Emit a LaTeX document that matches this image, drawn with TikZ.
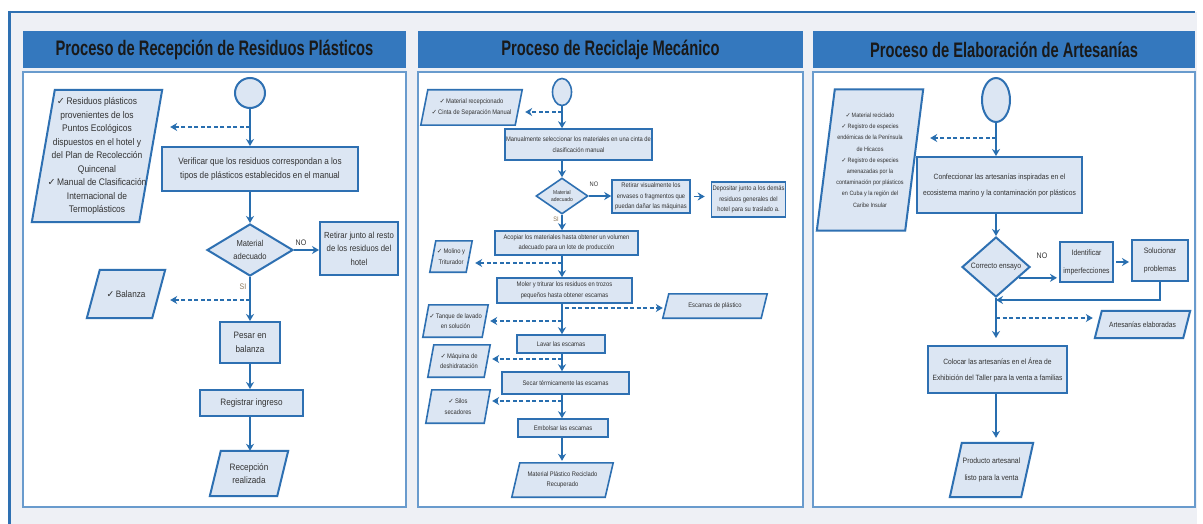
\documentclass[tikz,border=0pt]{standalone}
\usepackage{fontspec}
\setmainfont{Liberation Sans}
\newfontfamily\headfont[FakeStretch=0.7]{Liberation Sans}
\newfontfamily\nfont[FakeStretch=0.88]{Liberation Sans}
\newfontfamily\symfont{DejaVu Sans}
\usetikzlibrary{shapes.geometric,arrows.meta,calc}

\definecolor{bord}{RGB}{46,112,178}
\definecolor{headblue}{RGB}{52,120,190}
\definecolor{panelline}{RGB}{105,155,205}
\definecolor{lfill}{RGB}{220,230,243}
\definecolor{txt}{RGB}{50,50,50}
\definecolor{framebg}{RGB}{238,240,245}
\definecolor{arr}{RGB}{40,110,175}
\definecolor{silbl}{RGB}{140,120,90}

\newcommand\ck{{\symfont ✓}\,}
\newcommand\ftA{\nfont\fontsize{9.6}{13.5}\selectfont}
\newcommand\ftB{\nfont\fontsize{9.3}{13.5}\selectfont}
\newcommand\ftC{\nfont\fontsize{6.6}{10.5}\selectfont}
\newcommand\ftD{\nfont\fontsize{7.6}{16}\selectfont}
\newcommand\ftE{\nfont\fontsize{6.2}{11.2}\selectfont}

\pgfdeclarelayer{panels}
\pgfdeclarelayer{shapes}
\pgfsetlayers{panels,shapes,main}

% parallelogram (data symbol) drawn behind a named text node
\newcommand\ioframe[3][2]{%
  \begin{pgfonlayer}{shapes}
    \draw[iobord, line width=#1] ([xshift=#3]#2.north west) -- (#2.north east)
      -- ([xshift=-#3]#2.south east) -- (#2.south west) -- cycle;
  \end{pgfonlayer}}

\tikzset{
  headbar/.style={rectangle, fill=headblue, inner sep=0pt, text=black!90,
    font=\headfont\bfseries\fontsize{21}{21}\selectfont},
  panelbody/.style={rectangle, draw=panelline, line width=1.5pt, fill=white, inner sep=0pt},
  box/.style={rectangle, draw=bord, line width=2pt, fill=lfill, inner sep=1pt,
    align=center, text=txt},
  thinbox/.style={box, line width=1.6pt},
  iobox/.style={rectangle, inner sep=0pt, align=center, text=txt},
  iobord/.style={draw=bord, fill=lfill},
  startc/.style={ellipse, draw=bord, line width=2pt, fill=lfill, inner sep=0pt},
  dia/.style={diamond, draw=bord, line width=2pt, fill=lfill, inner sep=0pt,
    align=center, text=txt},
  flow/.style={draw=arr, line width=1.8pt, -{Stealth[length=7pt,width=8pt]}},
  dflow/.style={flow, dash pattern=on 4pt off 2.5pt},
  lbl/.style={inner sep=0pt, text=txt, font=\nfont\fontsize{8}{8}\selectfont},
  silabel/.style={lbl, text=silbl},
}

\begin{document}
\begin{tikzpicture}[x=1pt,y=-1pt]
\useasboundingbox (0,0) rectangle (1203,524);

% ---------- frame and the three panels ----------
\begin{pgfonlayer}{panels}
  \fill[white] (0,0) rectangle (1203,524);
  \fill[framebg] (9,12) rectangle (1197,524);
  \draw[bord, line width=2.5pt] (8,12) -- (1195,12);
  \draw[bord, line width=3.5pt] (9.5,11) -- (9.5,524);

  \node[panelbody, minimum width=383, minimum height=435] (b1) at (214.5,289.5) {};
  \node[panelbody, minimum width=385, minimum height=435] (b2) at (610.5,289.5) {};
  \node[panelbody, minimum width=382, minimum height=435] (b3) at (1004,289.5) {};

  \node[headbar, minimum width=383, minimum height=37] (h1) at (214.5,49.5) {Proceso de Recepción de Residuos Plásticos};
  \node[headbar, minimum width=385, minimum height=37] (h2) at (610.5,49.5) {Proceso de Reciclaje Mecánico};
  \node[headbar, minimum width=382, minimum height=37] (h3) at (1004,49.5) {Proceso de Elaboración de Artesanías};
\end{pgfonlayer}

% ---------- Recepción de residuos plásticos ----------
\node[startc, minimum width=30, minimum height=30] (s1) at (250,93) {};
\node[iobox, minimum width=130, minimum height=132, font=\ftA] (in1) at (97,156)
  {\ck Residuos plásticos\\provenientes de los\\Puntos Ecológicos\\dispuestos en el hotel y\\del Plan de Recolección\\Quincenal\\\ck Manual de Clasificación\\Internacional de\\Termoplásticos};
\ioframe{in1}{23}
\node[box, minimum width=196, minimum height=44, font=\ftB] (p1) at (260,169)
  {Verificar que los residuos correspondan a los\\tipos de plásticos establecidos en el manual};
\node[dia, minimum width=86, minimum height=50, font=\nfont\fontsize{8.6}{12.5}\selectfont] (d1) at (250,250) {Material\\adecuado};
\node[box, minimum width=78, minimum height=53, font=\nfont\fontsize{8.8}{13.5}\selectfont] (r1) at (359,248.5)
  {Retirar junto al resto\\de los residuos del\\hotel};
\node[iobox, minimum width=78, minimum height=48, font=\ftB] (io2) at (126,294) {\ck Balanza};
\ioframe{io2}{13}
\node[box, minimum width=60, minimum height=41, font=\nfont\fontsize{9.3}{14.5}\selectfont] (p2) at (250,342.5) {Pesar en\\balanza};
\node[box, minimum width=103, minimum height=26, font=\ftB] (p3) at (251.5,403) {Registrar ingreso};
\node[iobox, minimum width=78, minimum height=45, font=\ftB] (e1) at (249,473.5) {Recepción\\realizada};
\ioframe{e1}{11}

\coordinate (c1) at (250,127);
\coordinate (c2) at (250,300);
\draw[flow] (s1) -- (s1 |- p1.north);
\draw[dflow, shorten >=8pt] (c1) -- (c1 -| in1.east);
\draw[flow] (d1 |- p1.south) -- (d1.north);
\draw[flow] (d1.east) -- (d1.east -| r1.west);
\node[lbl] (no1) at (301,243) {NO};
\draw[flow] (d1) -- (p2);
\node[silabel] (si1) at (243,287) {SI};
\draw[dflow, shorten >=5pt] (c2) -- (c2 -| io2.east);
\draw[flow] (p2) -- (p2 |- p3.north);
\draw[flow] (p2 |- p3.south) -- (p2 |- e1.north);

% ---------- Reciclaje mecánico ----------
\node[startc, line width=1.6pt, minimum width=19, minimum height=27] (s2) at (562,92) {};
\node[iobox, minimum width=101, minimum height=35, font=\ftC] (in2) at (471.5,107.5)
  {\ck Material recepcionado\\\ck Cinta de Separación Manual};
\ioframe[1.6pt]{in2}{7}
\node[thinbox, minimum width=141, minimum height=31, font=\ftC] (q1) at (578.5,144.5)
  {Manualmente seleccionar los materiales en una cinta de\\clasificación manual};
\node[dia, line width=1.6pt, minimum width=52, minimum height=36, font=\nfont\fontsize{5.6}{7.5}\selectfont] (d2) at (562,196) {Material\\adecuado};
\node[thinbox, minimum width=78, minimum height=33, font=\ftC] (q2) at (651,196.5)
  {Retirar visualmente los\\envases o fragmentos que\\puedan dañar las máquinas};
\node[thinbox, minimum width=73, minimum height=35, font=\ftC] (q3) at (748.5,199.5)
  {Depositar junto a los demás\\residuos generales del\\hotel para su traslado a.};
\node[thinbox, minimum width=143, minimum height=24, font=\ftC] (q4) at (566.5,243)
  {Acopiar los materiales hasta obtener un volumen\\adecuado para un lote de producción};
\node[iobox, minimum width=42, minimum height=31, font=\ftC] (io3) at (451,256.5) {\ck Molino y\\Triturador};
\ioframe[1.6pt]{io3}{6}
\node[thinbox, minimum width=135, minimum height=25, font=\ftC] (q5) at (564.5,290.5)
  {Moler y triturar los residuos en trozos\\pequeños hasta obtener escamas};
\node[iobox, minimum width=104, minimum height=24, font=\ftC] (io4) at (715,306) {Escamas de plástico};
\ioframe[1.6pt]{io4}{6}
\node[iobox, minimum width=65, minimum height=32, font=\ftC] (io5) at (455.5,321) {\ck Tanque de lavado\\en solución};
\ioframe[1.6pt]{io5}{6}
\node[thinbox, minimum width=88, minimum height=18, font=\ftC] (q6) at (561,344) {Lavar las escamas};
\node[iobox, minimum width=62, minimum height=32, font=\ftC] (io6) at (459,361) {\ck Máquina de\\deshidratación};
\ioframe[1.6pt]{io6}{6}
\node[thinbox, minimum width=127, minimum height=22, font=\ftC] (q7) at (565.5,383) {Secar térmicamente las escamas};
\node[iobox, minimum width=64, minimum height=33, font=\ftC] (io7) at (458,406.5) {\ck Silos\\secadores};
\ioframe[1.6pt]{io7}{6}
\node[thinbox, minimum width=90, minimum height=18, font=\ftC] (q8) at (563,428) {Embolsar las escamas};
\node[iobox, minimum width=101, minimum height=34, font=\ftC] (e2) at (562.5,480) {Material Plástico Reciclado\\Recuperado};
\ioframe[1.6pt]{e2}{8}

\coordinate (c3) at (562,112);
\coordinate (c4) at (562,263);
\coordinate (c5) at (565,308);
\coordinate (c6) at (562,321);
\coordinate (c7) at (562,359);
\coordinate (c8) at (562,401);
\begin{scope}[flow/.append style={line width=1.5pt}, dflow/.append style={line width=1.5pt}]
\draw[flow] (s2) -- (s2 |- q1.north);
\draw[dflow, shorten >=3pt] (c3) -- (c3 -| in2.east);
\draw[flow] (d2 |- q1.south) -- (d2.north);
\draw[flow] (d2.east) -- (d2.east -| q2.west);
\node[lbl, font=\nfont\fontsize{6.5}{7}\selectfont] (no2) at (594,184) {NO};
\draw[flow, shorten <=3pt, shorten >=6pt] (q2.east) -- (q2.east -| q3.west);
\node[silabel, font=\nfont\fontsize{6.5}{7}\selectfont] (si2) at (556,219) {SI};
\draw[flow] (d2) -- (d2 |- q4.north);
\draw[dflow, shorten >=3pt] (c4) -- (c4 -| io3.east);
\draw[flow] (d2 |- q4.south) -- (d2 |- q5.north);
\draw[dflow] (c5) -- (c5 -| io4.west);
\draw[dflow, shorten >=2pt] (c6) -- (c6 -| io5.east);
\draw[flow] (d2 |- q5.south) -- (d2 |- q6.north);
\draw[dflow, shorten >=2pt] (c7) -- (c7 -| io6.east);
\draw[flow] (d2 |- q6.south) -- (d2 |- q7.north);
\draw[dflow, shorten >=2pt] (c8) -- (c8 -| io7.east);
\draw[flow] (d2 |- q7.south) -- (d2 |- q8.north);
\draw[flow, shorten >=2pt] (d2 |- q8.south) -- (d2 |- e2.north);
\end{scope}

% ---------- Elaboración de artesanías ----------
\node[startc, minimum width=28, minimum height=44] (s3) at (996,100) {};
\node[iobox, minimum width=106, minimum height=141, font=\ftE] (in3) at (870,160)
  {\ck Material reciclado\\\ck Registro de especies\\endémicas de la Península\\de Hicacos\\\ck Registro de especies\\amenazadas por la\\contaminación por plásticos\\en Cuba y la región del\\Caribe Insular};
\ioframe{in3}{18}
\node[box, minimum width=165, minimum height=56, font=\ftD] (t1) at (999.5,185)
  {Confeccionar las artesanías inspiradas en el\\ecosistema marino y la contaminación por plásticos};
\node[dia, minimum width=68, minimum height=60, font=\nfont\fontsize{7.8}{9}\selectfont] (d3) at (996,267) {Correcto ensayo};
\node[box, minimum width=53, minimum height=40, font=\nfont\fontsize{7.8}{18}\selectfont] (t2) at (1086.5,262) {Identificar\\imperfecciones};
\node[box, minimum width=56, minimum height=41, font=\nfont\fontsize{7.8}{18}\selectfont] (t3) at (1160,260.5) {Solucionar\\problemas};
\node[iobox, minimum width=95, minimum height=27, font=\ftD] (io8) at (1142.5,324.5) {Artesanías elaboradas};
\ioframe{io8}{7}
\node[box, minimum width=139, minimum height=47, font=\ftD] (t4) at (997.5,369.5)
  {Colocar las artesanías en el Área de\\Exhibición del Taller para la venta a familias};
\node[iobox, minimum width=83, minimum height=54, font=\nfont\fontsize{7.8}{17}\selectfont] (e3) at (991.5,470) {Producto artesanal\\listo para la venta};
\ioframe{e3}{12}

\coordinate (c9) at (996,138);
\coordinate (c10) at (996,318);
\coordinate (n3) at ($(d3.east)!0.35!(d3.south)$);
\draw[flow] (s3) -- (s3 |- t1.north);
\draw[dflow, shorten >=7pt] (c9) -- (c9 -| in3.east);
\draw[flow] (d3 |- t1.south) -- (d3.north);
\draw[flow, shorten >=2pt] (n3) -- (n3 -| t2.west);
\node[lbl] (no3) at (1042,256) {NO};
\draw[flow, shorten <=2pt, shorten >=2pt] (t2.east) -- (t2.east -| t3.west);
\draw[flow] (t3.south) |- ([yshift=-2pt]d3.south);
\draw[dflow, shorten >=2pt] (c10) -- (c10 -| io8.west);
\draw[flow, shorten >=7pt] (d3) -- (d3 |- t4.north);
\draw[flow, shorten >=5pt] (d3 |- t4.south) -- (d3 |- e3.north);
\end{tikzpicture}
\end{document}
